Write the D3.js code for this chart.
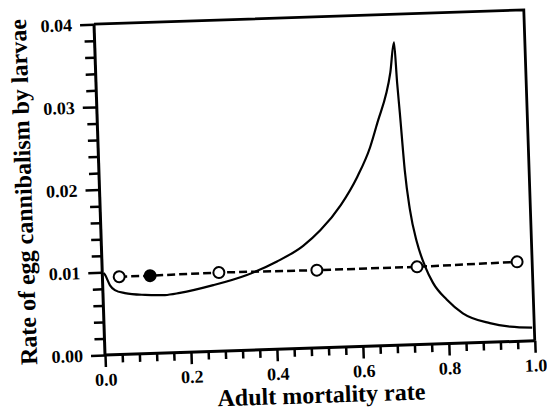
<!DOCTYPE html>
<html>
<head>
<meta charset="utf-8">
<script src="https://cdn.jsdelivr.net/npm/d3@7/dist/d3.min.js"></script>
<style>
  html, body { margin: 0; padding: 0; background: #fff; }
  svg { display: block; }
</style>
</head>
<body>
<svg id="chart" width="547" height="412"></svg>
<script>
// Model curve: rate of egg cannibalism by larvae vs adult mortality rate
const curveX = [0.003, 0.006, 0.017, 0.028, 0.051, 0.098, 0.144, 0.179, 0.257, 0.336,
                0.407, 0.469, 0.510, 0.560, 0.600, 0.632, 0.650, 0.685, 0.696,
                0.700, 0.704, 0.711, 0.720, 0.734, 0.751, 0.768, 0.799, 0.835, 0.897, 0.944, 0.995];
const curveY = [0.0099, 0.0097, 0.0084, 0.0078, 0.0074, 0.0071, 0.0070, 0.0072, 0.0080, 0.0091,
                0.0106, 0.0124, 0.0142, 0.0172, 0.0205, 0.0240, 0.0268, 0.0330, 0.0366,
                0.0317, 0.0280, 0.0211, 0.0163, 0.0123, 0.0094, 0.0074, 0.0053, 0.0036, 0.0023, 0.0018, 0.0016];

// Observed estimates (dashed line with circles); the filled one is flagged separately
const obsX = [0.039, 0.111, 0.271, 0.499, 0.732, 0.965];
const obsY = [0.0094, 0.0094, 0.0095, 0.0094, 0.0094, 0.0096];
const obsFilled = [false, true, false, false, false, false];
// dashed line runs on to this end point
const dashEndX = 0.985, dashEndY = 0.0096;

const xMajor = [0, 0.2, 0.4, 0.6, 0.8, 1.0];
const yMajor = [0, 0.01, 0.02, 0.03, 0.04];
const xMinor = d3.range(0, 26).map(i => i * 0.04).filter(v => !xMajor.some(m => Math.abs(m - v) < 1e-9));
const yMinor = d3.range(0, 21).map(i => i * 0.002).filter(v => !yMajor.some(m => Math.abs(m - v) < 1e-9));

const FONT = "'Liberation Serif', 'Times New Roman', Times, serif";
const W = 430, H = 331;
const ox = 105, oy = 355;

const svg = d3.select("#chart");
const outer = svg.append("g").attr("transform", `rotate(-1.9,${ox},${oy})`);
const g = outer.append("g").attr("transform", `translate(${ox},${oy - H})`);

const x = d3.scaleLinear().domain([0, 1]).range([0, W]);
const y = d3.scaleLinear().domain([0, 0.04]).range([H, 0]);

// x axis: major + minor ticks
const xAxisG = g.append("g").attr("transform", `translate(0,${H})`)
  .call(d3.axisBottom(x).tickValues(xMajor).tickSize(12).tickPadding(6).tickFormat(d3.format(".1f")));
g.append("g").attr("transform", `translate(0,${H})`)
  .call(d3.axisBottom(x).tickValues(xMinor).tickSize(8).tickFormat(""))
  .select(".domain").remove();

// y axis
const yAxisG = g.append("g")
  .call(d3.axisLeft(y).tickValues(yMajor).tickSize(14).tickPadding(8).tickFormat(d3.format(".2f")));
g.append("g")
  .call(d3.axisLeft(y).tickValues(yMinor).tickSize(10).tickFormat(""))
  .select(".domain").remove();

g.selectAll(".domain").attr("stroke", "#000").attr("stroke-width", 3);
g.selectAll(".tick line").attr("stroke", "#000").attr("stroke-width", 2.5);
g.selectAll(".tick text")
  .style("font-family", FONT).style("font-weight", "bold").style("font-size", "18px")
  .attr("fill", "#000");
xAxisG.select(".domain").attr("d", `M0,0H${W}`);
yAxisG.select(".domain").attr("d", `M0,${H}V0`);

// frame: top and right edges
g.append("path")
  .attr("d", `M${x(0)},${y(0.04)}H${x(1)}V${y(0)}`)
  .attr("fill", "none").attr("stroke", "#000").attr("stroke-width", 2.8);

// model curve
const curveData = curveX.map((v, i) => [v, curveY[i]]);
g.append("path")
  .datum(curveData)
  .attr("fill", "none").attr("stroke", "#000").attr("stroke-width", 2.2)
  .attr("d", d3.line().x(d => x(d[0])).y(d => y(d[1])).curve(d3.curveMonotoneX));

// dashed observed line
const obsData = obsX.map((v, i) => ({ x: v, y: obsY[i], filled: obsFilled[i] }));
const dashData = obsData.map(d => [d.x, d.y]).concat([[dashEndX, dashEndY]]);
g.append("path")
  .datum(dashData)
  .attr("fill", "none").attr("stroke", "#000").attr("stroke-width", 2.5)
  .attr("stroke-dasharray", "8,4")
  .attr("d", d3.line().x(d => x(d[0])).y(d => y(d[1])));

g.selectAll("circle.obs").data(obsData).join("circle")
  .attr("class", "obs")
  .attr("cx", d => x(d.x)).attr("cy", d => y(d.y)).attr("r", 5.5)
  .attr("fill", d => d.filled ? "#000" : "#fff")
  .attr("stroke", "#000").attr("stroke-width", 2);

// axis titles
g.append("text")
  .attr("x", W / 2).attr("y", H + 55)
  .attr("text-anchor", "middle")
  .style("font-family", FONT).style("font-weight", "bold").style("font-size", "24px")
  .attr("fill", "#000")
  .text("Adult mortality rate");

g.append("text")
  .attr("transform", `translate(-68,${H / 2}) rotate(-90)`)
  .attr("text-anchor", "middle")
  .style("font-family", FONT).style("font-weight", "bold").style("font-size", "24px")
  .attr("fill", "#000")
  .text("Rate of egg cannibalism by larvae");
</script>
</body>
</html>
